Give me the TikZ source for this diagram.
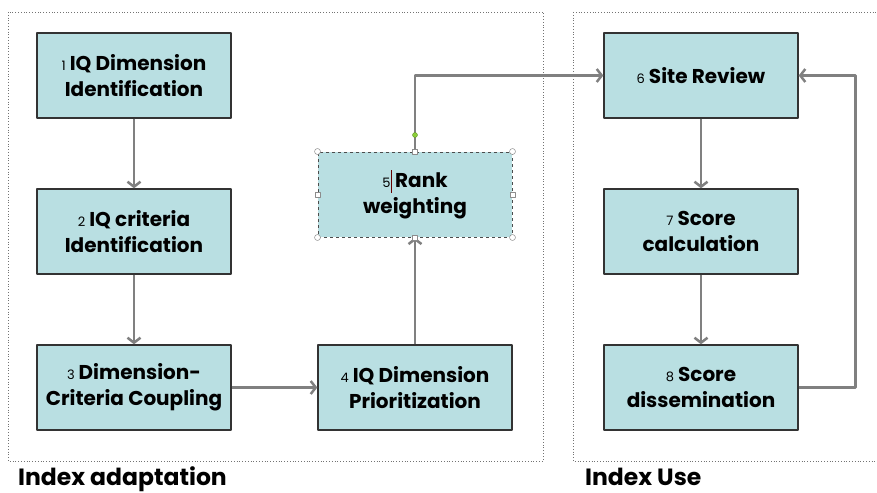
\documentclass[tikz,border=0pt]{standalone}
\usepackage{fontspec}
\setmainfont{Poppins}
\usetikzlibrary{arrows.meta}
\definecolor{boxfill}{HTML}{B9DFE2}
\definecolor{linegray}{HTML}{808080}
\definecolor{handlegreen}{HTML}{8CD038}
\newcommand{\stepno}[1]{{\mdseries\fontsize{13}{13}\selectfont #1}\hspace{4pt}}
\newcommand{\textcursor}{\textcolor{red!40!black}{\rule[-5pt]{0.6pt}{23pt}}}
\tikzset{
  stepbox/.style={draw=black!80, fill=boxfill, line width=1.4pt, minimum width=194pt, minimum height=85pt,
    align=center, inner sep=0pt, font=\bfseries\fontsize{20}{26}\selectfont},
  flow/.style={draw=linegray, line width=2.5pt, -{Straight Barb[length=5pt,width=13pt,line width=2.5pt]}},
  areaframe/.style={draw=black!55, dotted, line width=0.8pt},
  arealabel/.style={anchor=base west, inner sep=0pt, font=\bfseries\fontsize{23.5}{23.5}\selectfont},
  cornerhandle/.style={circle, draw=black!45, fill=white, inner sep=0pt, minimum size=6pt, line width=0.5pt},
  edgehandle/.style={rectangle, draw=black!45, fill=white, inner sep=0pt, minimum size=5pt, line width=0.5pt}
}
\begin{document}
\begin{tikzpicture}[x=1pt, y=-1pt, line join=round]
  \useasboundingbox (0,0) rectangle (877,492);
  % dotted areas
  \draw[areaframe] (8,12) rectangle (543,461);
  \draw[areaframe] (573,12) -- (880,12) (573,12) -- (573,461) -- (880,461);
  \node[arealabel] (adaptlabel) at (18,485) {Index adaptation};
  \node[arealabel] (uselabel) at (585,485) {Index Use};
  % steps
  \node[stepbox] (dimid) at (134,75.5) {\stepno{1}IQ Dimension\\Identification};
  \node[stepbox] (critid) at (134,231.5) {\stepno{2}IQ criteria\\Identification};
  \node[stepbox] (coupling) at (134,387.5) {\stepno{3}Dimension-\\Criteria Coupling};
  \node[stepbox] (prio) at (415,387.5) {\stepno{4}IQ Dimension\\Prioritization};
  \node[stepbox, dashed, line width=1pt, draw=black!70] (rank) at (415,194.5)
    {{\mdseries\fontsize{13}{13}\selectfont 5}\textcursor\hspace{4pt}Rank\\weighting};
  \node[stepbox] (review) at (701,75.5) {\stepno{6}Site Review};
  \node[stepbox] (calc) at (701,231.5) {\stepno{7}Score\\calculation};
  \node[stepbox] (dissem) at (701,387.5) {\stepno{8}Score\\dissemination};
  % arrows
  \draw[flow] (dimid) -- (critid);
  \draw[flow] (critid) -- (coupling);
  \draw[flow] (coupling) -- (prio);
  \draw[flow] (prio) -- (rank);
  \draw[flow] (rank.north) |- (review.west);
  \draw[flow] (review) -- (calc);
  \draw[flow] (calc) -- (dissem);
  \draw[flow] (dissem.east) -- ++(57,0) |- (review.east);
  % selection handles on step 5
  \foreach \c in {north west,north east,south west,south east}
    \node[cornerhandle] at (rank.\c) {};
  \foreach \c in {north,south,west,east}
    \node[edgehandle] at (rank.\c) {};
  \node[circle, fill=handlegreen, draw=handlegreen!70!black, inner sep=0pt, minimum size=5pt] (rotknob) at (415,135) {};
\end{tikzpicture}
\end{document}
